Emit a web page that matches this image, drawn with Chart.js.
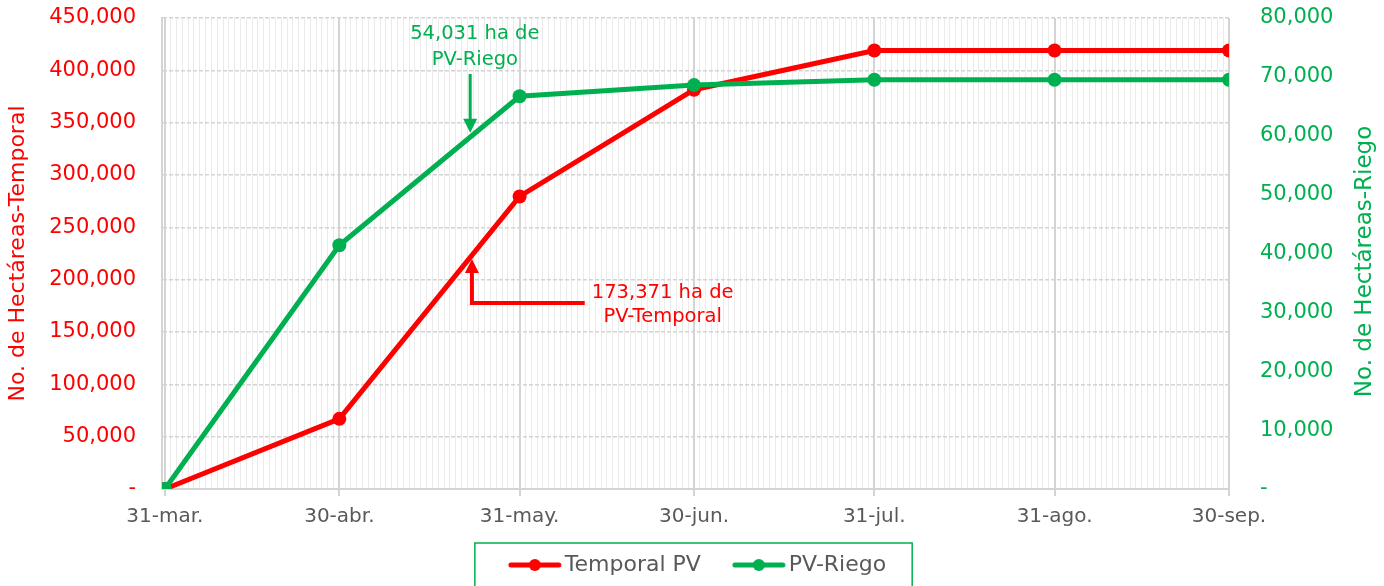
<!DOCTYPE html>
<html>
<head>
<meta charset="utf-8">
<script src="https://cdn.jsdelivr.net/npm/chart.js@4.4.0/dist/chart.umd.min.js"></script>
<style>
  html, body { margin: 0; padding: 0; background: #fff; }
  #contenedor { width: 1384px; height: 586px; }
</style>
</head>
<body>
<div id="contenedor"><canvas id="grafico"></canvas></div>
<script>
// datos
const fechas = ['31-mar.', '30-abr.', '31-may.', '30-jun.', '31-jul.', '31-ago.', '30-sep.']
const dias = [0, 30, 61, 91, 122, 153, 183]   // dias desde el 31 de marzo
const temporal = [0, 67000, 279500, 381500, 419000, 419000, 419000]
const riego = [0, 41400, 66700, 68600, 69500, 69500, 69500]
const notaRiego = ['54,031 ha de', 'PV-Riego']
const notaTemporal = ['173,371 ha de', 'PV-Temporal']

const rojo = '#ff0000'
const verde = '#00b050'
const gris = '#595959'
const fuente = "'DejaVu Sans', sans-serif"

Chart.defaults.font.family = fuente
Chart.defaults.font.size = 20

// marca de la leyenda: linea con punto, desplazada dentro de una imagen ancha
function marcaLeyenda(color) {
    let c = document.createElement('canvas')
    c.width = 200
    c.height = 14
    let g = c.getContext('2d')
    let a = 82
    g.strokeStyle = color
    g.lineWidth = 5
    g.lineCap = 'round'
    g.beginPath()
    g.moveTo(a + 3, 7)
    g.lineTo(a + 51, 7)
    g.stroke()
    g.fillStyle = color
    g.beginPath()
    g.arc(a + 27, 7, 6, 0, 2 * Math.PI)
    g.fill()
    return c
}
const marcas = [marcaLeyenda(rojo), marcaLeyenda(verde)]

const etiqueta = v => v === 0 ? '-' : v.toLocaleString('en-US')

// flechas y notas
const notas = {
    id: 'notas',
    afterDatasetsDraw(chart) {
        const ctx = chart.ctx
        const x = chart.scales.x, yT = chart.scales.y, yR = chart.scales.y1
        ctx.save()
        ctx.font = '19.5px ' + fuente
        ctx.textAlign = 'center'
        ctx.textBaseline = 'middle'

        // PV-Riego
        let px = x.getPixelForValue(52.5)
        let arriba = yR.getPixelForValue(70500)
        let punta = yR.getPixelForValue(60500)
        ctx.strokeStyle = verde
        ctx.fillStyle = verde
        ctx.lineWidth = 3
        ctx.beginPath()
        ctx.moveTo(px, arriba)
        ctx.lineTo(px, punta - 12)
        ctx.stroke()
        ctx.beginPath()
        ctx.moveTo(px - 7, punta - 14)
        ctx.lineTo(px + 7, punta - 14)
        ctx.lineTo(px, punta)
        ctx.closePath()
        ctx.fill()
        ctx.fillText(notaRiego[0], x.getPixelForValue(53.3), yR.getPixelForValue(77300))
        ctx.fillText(notaRiego[1], x.getPixelForValue(53.3), yR.getPixelForValue(72900))

        // PV-Temporal
        px = x.getPixelForValue(52.8)
        let abajo = yT.getPixelForValue(177700)
        punta = yT.getPixelForValue(219700)
        let fin = x.getPixelForValue(72.2)
        ctx.strokeStyle = rojo
        ctx.fillStyle = rojo
        ctx.lineWidth = 4
        ctx.beginPath()
        ctx.moveTo(fin, abajo)
        ctx.lineTo(px, abajo)
        ctx.lineTo(px, punta + 12)
        ctx.stroke()
        ctx.beginPath()
        ctx.moveTo(px - 7, punta + 14)
        ctx.lineTo(px + 7, punta + 14)
        ctx.lineTo(px, punta)
        ctx.closePath()
        ctx.fill()
        ctx.fillText(notaTemporal[0], x.getPixelForValue(85.6), yT.getPixelForValue(187300))
        ctx.fillText(notaTemporal[1], x.getPixelForValue(85.6), yT.getPixelForValue(164300))
        ctx.restore()
    }
}

// titulo del eje derecho y marco de la leyenda
const extras = {
    id: 'extras',
    afterDraw(chart) {
        const ctx = chart.ctx
        const area = chart.chartArea
        const yR = chart.scales.y1
        ctx.save()
        ctx.font = '23px ' + fuente
        ctx.fillStyle = verde
        ctx.textAlign = 'center'
        ctx.textBaseline = 'middle'
        ctx.translate(yR.right - 19, (area.top + area.bottom) / 2 + 8)
        ctx.rotate(-Math.PI / 2)
        ctx.fillText('No. de Hectáreas-Riego', 0, 0)
        ctx.restore()

        const hb = chart.legend.legendHitBoxes
        if (hb && hb.length) {
            const ult = hb[hb.length - 1]
            const izq = hb[0].left - 23
            const der = ult.left + ult.width + 26
            ctx.save()
            ctx.strokeStyle = verde
            ctx.lineWidth = 1.5
            ctx.strokeRect(izq, hb[0].top - 11, der - izq, 80)
            ctx.restore()
        }
    }
}

const diasMenores = []
for (let d = 1; d < 183; d++) {
    if (!dias.includes(d)) diasMenores.push(d)
}

new Chart(document.getElementById('grafico'), {
    type: 'line',
    data: {
        datasets: [{
            label: 'Temporal PV',
            data: dias.map((d, i) => ({x: d, y: temporal[i]})),
            yAxisID: 'y',
            borderColor: rojo,
            backgroundColor: rojo,
            borderWidth: 5,
            pointRadius: 7,
            pointBorderWidth: 0,
            tension: 0,
            order: 1
        }, {
            label: 'PV-Riego',
            data: dias.map((d, i) => ({x: d, y: riego[i]})),
            yAxisID: 'y1',
            borderColor: verde,
            backgroundColor: verde,
            borderWidth: 5,
            pointRadius: 7,
            pointBorderWidth: 0,
            tension: 0,
            order: 0
        }]
    },
    options: {
        responsive: true,
        maintainAspectRatio: false,
        animation: false,
        layout: { padding: { top: 18, left: 0, right: 0, bottom: 0 } },
        plugins: {
            tooltip: { enabled: false },
            legend: {
                position: 'bottom',
                labels: {
                    color: gris,
                    usePointStyle: true,
                    pointStyleWidth: 56,
                    padding: 21,
                    font: { size: 22 },
                    sort: (a, b) => a.datasetIndex - b.datasetIndex,
                    generateLabels(chart) {
                        const items = Chart.defaults.plugins.legend.labels.generateLabels(chart)
                        items.forEach(it => { it.pointStyle = marcas[it.datasetIndex] })
                        return items
                    }
                }
            }
        },
        scales: {
            x: {
                type: 'linear',
                position: 'bottom',
                min: -0.5,
                max: 183,
                afterBuildTicks: s => { s.ticks = dias.map(d => ({value: d})) },
                afterFit: s => { s.height = 44 },
                ticks: {
                    color: gris,
                    padding: 9,
                    autoSkip: false,
                    maxRotation: 0,
                    callback: (v, i) => fechas[i]
                },
                grid: { color: '#d4d4d4', lineWidth: 2, tickLength: 7 },
                border: { color: '#d4d4d4', width: 2 }
            },
            xMenor: {
                type: 'linear',
                position: 'bottom',
                min: -0.5,
                max: 183,
                afterBuildTicks: s => { s.ticks = diasMenores.map(d => ({value: d})) },
                afterFit: s => { s.height = 0 },
                ticks: { display: false },
                grid: { color: '#ebebeb', lineWidth: 1, drawTicks: false },
                border: { display: false }
            },
            y: {
                position: 'left',
                min: 0,
                max: 450000,
                afterFit: s => { s.width = 162 },
                ticks: { stepSize: 50000, color: rojo, padding: 3, font: { size: 21 }, callback: etiqueta },
                grid: { color: '#d4d4d4', lineWidth: 1.5, drawTicks: true, tickLength: 23, tickColor: 'transparent' },
                border: { color: '#d4d4d4', width: 2, dash: [4, 2] },
                title: {
                    display: true,
                    text: 'No. de Hectáreas-Temporal',
                    color: rojo,
                    font: { size: 22 },
                    padding: { top: 5, bottom: 0 }
                }
            },
            y1: {
                position: 'right',
                min: 0,
                max: 80000,
                afterFit: s => { s.width = 155 },
                ticks: { stepSize: 10000, color: verde, padding: 3, font: { size: 21 }, callback: etiqueta },
                grid: { display: true, drawOnChartArea: false, color: 'transparent', drawTicks: true, tickLength: 28 },
                border: { display: false }
            }
        }
    },
    plugins: [notas, extras]
})
</script>
</body>
</html>
